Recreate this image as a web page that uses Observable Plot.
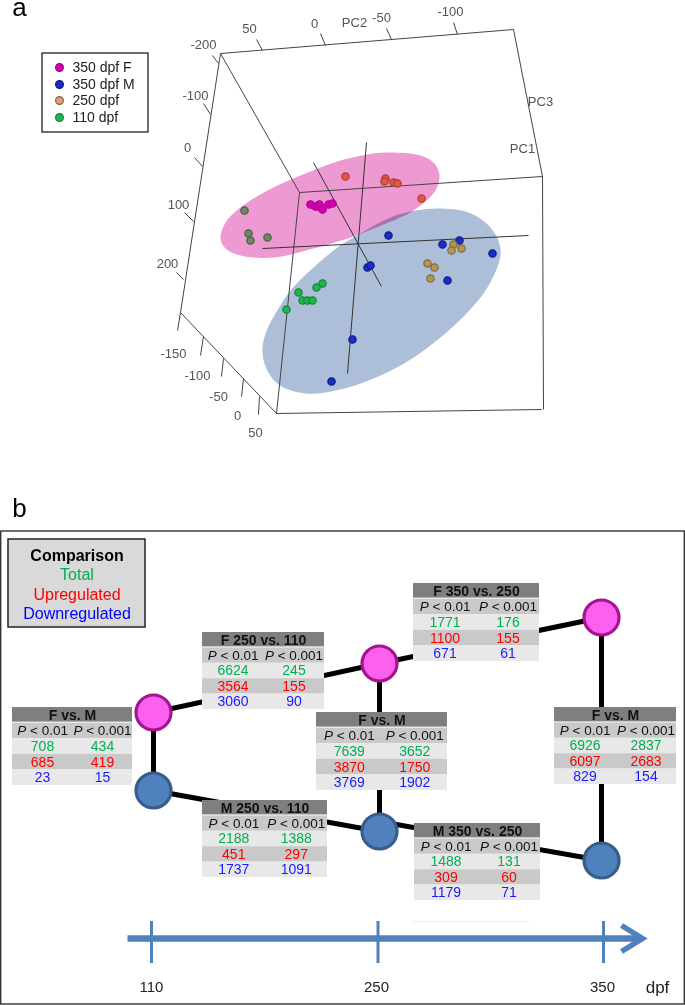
<!DOCTYPE html>
<html>
<head>
<meta charset="utf-8">
<script src="https://cdn.jsdelivr.net/npm/d3@7"></script>
<script src="https://cdn.jsdelivr.net/npm/@observablehq/plot@0.6"></script>
<style>html,body{margin:0;padding:0;background:#fff}svg{display:block}</style>
</head>
<body>
<div id="chart"></div>
<script>
// ---- panel a: PCA scatter in page units
const f350 = [[310,204],[315,206],[318,206],[319,204],[322,209],[328,204],[332,203]];
const f250 = [[345,176],[385,178],[384,181],[393,182],[397,183],[421,198]];
const f110 = [[244,210],[248,233],[250,240],[267,237]];
const m350 = [[388,235],[442,244],[459,240],[492,253],[447,280],[367,267],[370,265],[352,339],[331,381]];
const m250 = [[453,244],[461,248],[451,250],[427,263],[434,267],[430,278]];
const m110 = [[322,283],[316,287],[298,292],[302,300],[307,300],[312,300],[286,309]];
const pinkOutline = [[220,238],[225,222],[240,207],[267,190],[300,175],[340,160],[373,153],[390,152],[420,155],[434,163],[439,175],[435,190],[413,210],[373,228],[353,236],[313,248],[273,257],[240,255],[225,248]];
const blueOutline = [[262,347],[267,328],[275,313],[290,290],[313,267],[337,247],[353,237],[390,217],[415,210],[440,208],[465,211],[485,222],[497,238],[500,255],[487,287],[465,314],[440,337],[410,359],[380,375],[340,389],[305,393],[278,384],[265,366]];
const wireEdges = [[220,53,513,29],[220,53,180,312],[180,312,276,413],[276,413,541,409],[513,29,542,176],[299,192,542,176],[220,53,299,192],[299,192,276,413],[542,176,543,409]];
const axisEdges = [[262,248,528,235],[366,142,347,373],[313,162,381,286]];
const wireTicks = [[256,39,262,50],[320,33,325,45],[386,28,391,39],[453,22,457,34],[212,55,218,63],[203,103,210,114],[194,157,202,166],[184,212,193,221],[176,272,183,279],[180,312,177,330],[203,336,200,355],[223,358,221,376],[243,378,241,396],[259,396,258,414]];
const wireLabels = ["50","0","PC2","-50","-100","-200","-100","0","100","200","PC3","PC1","-150","-100","-50","0","50"];
const wireLabelAt = [[249,28],[314,23],[354,22],[381,17],[450,11],[203,44],[195,95],[187,147],[178,204],[167,263],[540,101],[522,148],[173,353],[197,375],[218,396],[237,415],[255,432]];
const legendA = ["350 dpf F","350 dpf M","250 dpf","110 dpf"];
const legendAY = [67,84,100,117];
const legendAFill = ["#d400b0","#1a2ccc","#e39a78","#1cb84a"];
const legendAStroke = ["#a0008a","#10207f","#7a6a40","#1a8040"];

// ---- panel b: comparison tables
const tableTitles = ["F vs. M","F 250 vs. 110","F vs. M","F 350 vs. 250","F vs. M","M 250 vs. 110","M 350 vs. 250"];
const totalP01 = [708,6624,7639,1771,6926,2188,1488];
const totalP001 = [434,245,3652,176,2837,1388,131];
const upP01 = [685,3564,3870,1100,6097,451,309];
const upP001 = [419,155,1750,155,2683,297,60];
const downP01 = [23,3060,3769,671,829,1737,1179];
const downP001 = [15,90,1902,61,154,1091,71];
const tableBoxes = [[12,707,132,785],[202,632,324,709],[316,712,447,790],[413,583,539,661],[554,707,676,784],[202,800,327,877],[414,823,540,900]];
const femaleNodes = [[153,712],[379,663],[601,617]];
const maleNodes = [[153,790],[379,831],[601,860]];
const edges = [[153,712,379,663],[379,663,601,617],[153,712,153,790],[379,663,379,831],[601,617,601,860],[153,790,379,831],[379,821,601,860]];
const legendBHead = ["Comparison"];
const legendB = ["Total","Upregulated","Downregulated"];
const legendBY = [574,594,613];
const legendBColor = ["#00b050","#ff0000","#0000ff"];
const timeLabels = ["110","250","350"];
const timeTickX = [151,377.5,603];
const timeLabelX = [151,376,602];

const font = "Liberation Sans, Arial, sans-serif";
const seg = (rows, o) => Plot.link(rows, {x1:d=>d[0], y1:d=>d[1], x2:d=>d[2], y2:d=>d[3], ...o});
const pts = (rows, fill, stroke) => Plot.dot(rows, {x:d=>d[0], y:d=>d[1], r:3.7, fill, stroke, strokeWidth:1.2});

// table layout derived from the boxes
const rowFill = ["#7f7f7f","#c9c9c9","#e8e8e8","#c9c9c9","#e8e8e8"];
const cells = [];
const numbers = [];
const pLabels = [];
const titles = [];
tableBoxes.forEach(([x1,y1,x2,y2], i) => {
  const h = (y2-y1)/5, w = x2-x1, c1 = x1+w*0.25, c2 = x1+w*0.75;
  cells.push({x1, x2, y1, y2, fill:"#fff"});
  rowFill.forEach((fill, r) => cells.push({x1, x2, y1:y1+r*h, y2:y1+(r+1)*h-(r===0?1:0), fill}));
  titles.push({x:(x1+x2)/2, y:y1+h/2, text:tableTitles[i]});
  pLabels.push({x:c1, y:y1+1.5*h, rest:"< 0.01", off:-25.3});
  pLabels.push({x:c2, y:y1+1.5*h, rest:"< 0.001", off:-29.1});
  [[totalP01,totalP001,"#00b050"],[upP01,upP001,"#ff0000"],[downP01,downP001,"#1a1aff"]].forEach(([a,b,color],k) => {
    const y = y1+(2.5+k)*h;
    numbers.push({x:c1,y,text:String(a[i]),color});
    numbers.push({x:c2,y,text:String(b[i]),color});
  });
});

const chart = Plot.plot({
  width:685, height:1005, margin:0,
  x:{domain:[0,685], range:[0,685], axis:null},
  y:{domain:[0,1005], range:[0,1005], axis:null},
  style:{fontFamily:font, background:"#fff"},
  marks:[
    // panel a
    Plot.line(pinkOutline,{x:d=>d[0],y:d=>d[1],curve:"catmull-rom-closed",fill:"#ee9ad2",stroke:"none"}),
    Plot.line(blueOutline,{x:d=>d[0],y:d=>d[1],curve:"catmull-rom-closed",fill:"#adbfd8",stroke:"none",mixBlendMode:"multiply"}),
    seg(wireEdges,{stroke:"#444",strokeWidth:1}),
    seg(axisEdges,{stroke:"#333",strokeWidth:1}),
    seg(wireTicks,{stroke:"#444",strokeWidth:1}),
    pts(f110,"#6d8a5f","#4b5c4e"),
    pts(f350,"#d400b0","#b0009a"),
    pts(f250,"#e0593c","#b03c3c"),
    pts(m350,"#1a2ccc","#10207f"),
    pts(m250,"#b8954a","#7a6a40"),
    pts(m110,"#1cb84a","#1a8040"),
    Plot.text(wireLabels,{x:(d,i)=>wireLabelAt[i][0],y:(d,i)=>wireLabelAt[i][1],text:d=>d,fontSize:13,fill:"#555"}),
    Plot.rect([0],{x1:42,x2:148,y1:53,y2:132,fill:"#fff",stroke:"#222",strokeWidth:1.3}),
    Plot.dot(legendA,{x:()=>59,y:(d,i)=>legendAY[i],r:3.9,fill:(d,i)=>legendAFill[i],stroke:(d,i)=>legendAStroke[i],strokeWidth:1.2}),
    Plot.text(legendA,{x:()=>72,y:(d,i)=>legendAY[i],text:d=>d,textAnchor:"start",fontSize:14,fill:"#222"}),
    Plot.text(["a","b"],{x:()=>19,y:(d,i)=>[6.7,507.7][i],text:d=>d,fontSize:26,fill:"#000"}),
    // panel b
    Plot.rect([0],{x1:0.7,x2:684.3,y1:531,y2:1004,fill:"none",stroke:"#333",strokeWidth:1.4}),
    Plot.rect([0],{x1:8,x2:145,y1:539,y2:627,fill:"#d9d9d9",stroke:"#222",strokeWidth:1.5}),
    Plot.text(legendBHead,{x:()=>76.5,y:()=>555,text:d=>d,fontSize:16,fontWeight:"bold",fill:"#000"}),
    Plot.text(legendB,{x:()=>76.5,y:(d,i)=>legendBY[i],text:d=>d,fontSize:16,fill:(d,i)=>legendBColor[i]}),
    seg(edges,{stroke:"#000",strokeWidth:5}),
    Plot.rect(cells,{x1:"x1",x2:"x2",y1:"y1",y2:"y2",fill:"fill"}),
    Plot.text(titles,{x:"x",y:"y",text:"text",fontSize:14,fontWeight:"bold",fill:"#111"}),
    ...pLabels.map(p => Plot.text([p],{x:"x",y:"y",text:()=>"P",dx:p.off,textAnchor:"start",fontStyle:"italic",fontSize:13.5,fill:"#111"})),
    ...pLabels.map(p => Plot.text([p],{x:"x",y:"y",text:"rest",dx:p.off+12.8,textAnchor:"start",fontSize:13.5,fill:"#111"})),
    Plot.text(numbers,{x:"x",y:"y",text:"text",fontSize:14,fill:"color"}),
    Plot.dot(femaleNodes,{x:d=>d[0],y:d=>d[1],r:17.5,fill:"#fb60ef",stroke:"#a5148c",strokeWidth:3.2}),
    Plot.dot(maleNodes,{x:d=>d[0],y:d=>d[1],r:17.5,fill:"#4f81bd",stroke:"#385d8a",strokeWidth:3.2}),
    // time axis
    seg([[411,921,529,921]],{stroke:"#eee",strokeWidth:1}),
    seg([[127,938,640,938]],{stroke:"#4f81bd",strokeWidth:6.5}),
    Plot.line([[621,925],[642,938],[621,951]],{x:d=>d[0],y:d=>d[1],stroke:"#4f81bd",strokeWidth:5.5,strokeLinejoin:"miter",strokeLinecap:"butt",strokeMiterlimit:10}),
    Plot.ruleX(timeTickX,{x:d=>d,y1:921,y2:963,stroke:"#4f81bd",strokeWidth:3}),
    Plot.text(timeLabels,{x:(d,i)=>timeLabelX[i],y:()=>987,text:d=>d,fontSize:15,fill:"#222"}),
    Plot.text(["dpf"],{x:()=>657,y:()=>987,text:d=>d,fontSize:17,fill:"#222"})
  ]
});
document.getElementById("chart").append(chart);
</script>
</body>
</html>
